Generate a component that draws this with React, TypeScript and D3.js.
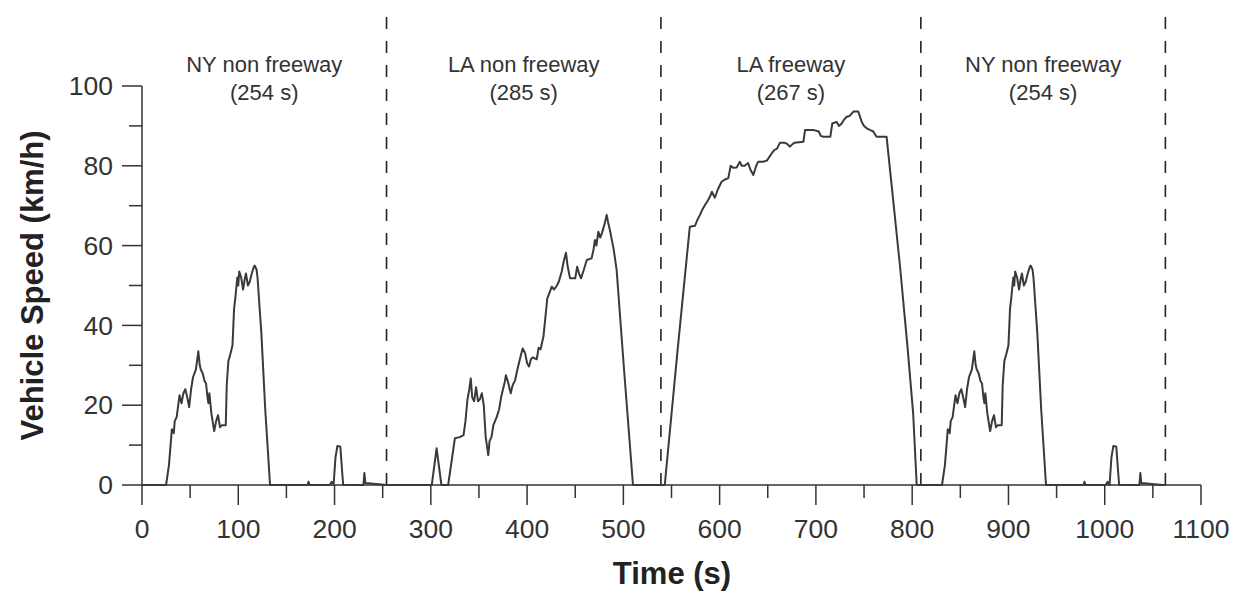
import React from "react";
import * as d3 from "d3";

// NY non-freeway cycle (relative time, s) and speed (km/h)
const nyTime = [0, 25, 28, 31, 33, 34, 36, 39, 41, 43, 45, 47, 49, 51, 53, 56, 58.5, 60, 61, 63, 65, 66.5, 68, 69, 70, 72, 75, 77, 79, 81, 83, 87, 88, 89.7, 92, 94, 95.6, 97, 99, 100, 101, 103, 105, 107, 108, 110, 112, 114, 116, 117, 119, 120, 122, 124, 128, 133, 172, 173, 174, 195, 197, 199, 201, 203, 206, 208, 209, 230, 231, 232, 254];
const nySpeed = [0, 0, 5, 14, 13, 16, 17, 22.5, 20.5, 23, 24, 22, 19.5, 24, 27, 29, 33.5, 30, 29, 28, 26, 25.5, 22, 20.5, 23, 18, 13.5, 16, 17.5, 14.5, 15, 15, 25, 31, 33, 35, 44, 47, 52, 50, 53.5, 52, 49, 52, 53, 50, 51, 53, 54.5, 55, 54, 52, 45, 38, 19, 0, 0, 0.8, 0, 0, 0.8, 0, 7, 9.8, 9.6, 3, 0, 0, 3, 0.5, 0];

// LA non-freeway (absolute time, s)
const laTime = [301, 306, 311, 318, 325, 330, 334, 336, 338, 340, 341.5, 343, 345, 347, 349, 351, 353, 355, 357, 359.7, 361, 363, 365, 368.4, 371, 373, 375, 377, 378, 380, 383, 385, 387.6, 390, 393, 395.4, 398, 400, 402, 404, 406, 410, 412, 414, 417, 419, 421, 423, 425.6, 428, 431, 433, 436, 438, 440.4, 442, 444.6, 450, 452, 454, 456, 459, 462, 467, 469, 470.5, 472, 474, 476, 477.6, 480, 482.7, 484, 486, 490, 493, 501, 510, 539];
const laSpeed = [0, 9.2, 0, 0, 11.7, 12, 12.5, 16, 21.3, 24, 26.7, 22, 21, 24.5, 21, 21.5, 23, 20, 12, 7.5, 11, 12, 15, 17, 19, 22, 24, 26, 27.5, 26, 23, 25, 26.3, 29, 32, 34.2, 33, 30.5, 29.7, 31.5, 32, 31.5, 34.4, 34, 37.2, 42, 46.8, 48, 49.7, 49, 50, 51, 53.5, 56, 58.2, 55, 51.8, 51.8, 54.7, 53, 51.8, 54, 56.4, 56.8, 59, 61.4, 60, 63.5, 62, 63, 65, 67.7, 66, 63.9, 59, 53.9, 28, 0, 0];

// LA freeway (absolute time, s)
const lfTime = [543, 556, 569, 574.5, 577, 579.6, 582, 584.8, 587, 590, 592, 595, 598, 602, 605, 609, 611.5, 614, 617.7, 621, 623, 626, 629.6, 632, 635, 638, 640, 645, 649, 651, 654, 657, 659.6, 662.7, 667, 669.6, 673, 676, 678, 687, 688.7, 697, 703, 705, 707.7, 715, 717, 721.6, 724, 726.8, 729, 732, 735, 739, 744, 747.6, 750, 752.8, 756, 759.6, 763, 773.4, 780, 787.4, 795, 801, 804.7];
const lfSpeed = [0, 33, 64.7, 65, 66.5, 67.7, 69, 70.2, 71, 72.3, 73.5, 72, 74, 76, 76.5, 76.9, 80, 79.5, 79.6, 81, 80, 80, 80.7, 79, 77.7, 80, 81, 81, 81.3, 82, 83.1, 84, 84.3, 85.8, 85.8, 85.6, 84.8, 85.5, 85.8, 86, 89, 89, 88.6, 87.5, 87.3, 87.3, 90.6, 91, 90, 90.6, 91.5, 92.3, 92.5, 93.6, 93.6, 91, 90, 89.4, 89, 88.6, 87.3, 87.3, 72, 54.7, 35, 18, 0];

const nyRepeatStart = 806;
const boundaries = [254, 539, 809, 1063];
const segLabels = [
  ["NY non freeway", "(254 s)"],
  ["LA non freeway", "(285 s)"],
  ["LA freeway", "(267 s)"],
  ["NY non freeway", "(254 s)"],
];
const xTicks = [0, 100, 200, 300, 400, 500, 600, 700, 800, 900, 1000, 1100];
const yTicks = [0, 20, 40, 60, 80, 100];

export default function App() {
  const width = 1234;
  const height = 591;
  const x = d3.scaleLinear().domain([0, 1100]).range([142, 1201]);
  const y = d3.scaleLinear().domain([0, 100]).range([485, 86]);

  const pts: [number, number][] = [];
  nyTime.forEach((t, i) => pts.push([t, nySpeed[i]]));
  laTime.forEach((t, i) => pts.push([t, laSpeed[i]]));
  lfTime.forEach((t, i) => pts.push([t, lfSpeed[i]]));
  nyTime.forEach((t, i) => { if (i > 0) pts.push([t + nyRepeatStart, nySpeed[i]]); });
  pts.push([boundaries[3], 0]);

  const line = d3.line<[number, number]>().x(d => x(d[0])).y(d => y(d[1]));

  const minorX = d3.range(50, 1100, 100);
  const minorY = d3.range(10, 100, 20);
  const font = "Arial, 'Liberation Sans', Helvetica, sans-serif";
  const starts = [0, ...boundaries.slice(0, 3)];

  return (
    <svg width={width} height={height} style={{ position: "absolute", left: 0, top: 0, background: "#fff" }}>
      {boundaries.map((b, i) => (
        <line key={"b" + i} x1={x(b)} x2={x(b)} y1={485} y2={10} stroke="#222" strokeWidth={1.6} strokeDasharray="12,12" />
      ))}
      {segLabels.map((s, i) => {
        const cx = x((starts[i] + boundaries[i]) / 2);
        return (
          <g key={"s" + i} fontFamily={font} fontSize={22} fill="#333" textAnchor="middle">
            <text x={cx} y={72}>{s[0]}</text>
            <text x={cx} y={100}>{s[1]}</text>
          </g>
        );
      })}
      <line x1={142} x2={142} y1={y(100)} y2={485} stroke="#333" strokeWidth={1.5} />
      <line x1={142} x2={x(1100)} y1={485} y2={485} stroke="#333" strokeWidth={1.5} />
      {yTicks.map(v => (
        <g key={"yt" + v}>
          <line x1={122} x2={142} y1={y(v)} y2={y(v)} stroke="#333" strokeWidth={1.5} />
          <text x={113} y={y(v)} dy="0.35em" textAnchor="end" fontFamily={font} fontSize={26.5} fill="#333">{v}</text>
        </g>
      ))}
      {minorY.map(v => (
        <line key={"ym" + v} x1={129} x2={142} y1={y(v)} y2={y(v)} stroke="#333" strokeWidth={1.5} />
      ))}
      {xTicks.map(v => (
        <g key={"xt" + v}>
          <line x1={x(v)} x2={x(v)} y1={485} y2={505} stroke="#333" strokeWidth={1.5} />
          <text x={x(v)} y={538} textAnchor="middle" fontFamily={font} fontSize={26.5} fill="#333">{v}</text>
        </g>
      ))}
      {minorX.map(v => (
        <line key={"xm" + v} x1={x(v)} x2={x(v)} y1={485} y2={498} stroke="#333" strokeWidth={1.5} />
      ))}
      <path d={line(pts) || ""} fill="none" stroke="#3a3a3a" strokeWidth={2} strokeLinejoin="round" />
      <text x={672} y={584} textAnchor="middle" fontFamily={font} fontSize={31} fontWeight="bold" fill="#222">Time (s)</text>
      <text transform={`translate(43, ${y(50)}) rotate(-90)`} textAnchor="middle" fontFamily={font} fontSize={31} fontWeight="bold" fill="#222">Vehicle Speed (km/h)</text>
    </svg>
  );
}
